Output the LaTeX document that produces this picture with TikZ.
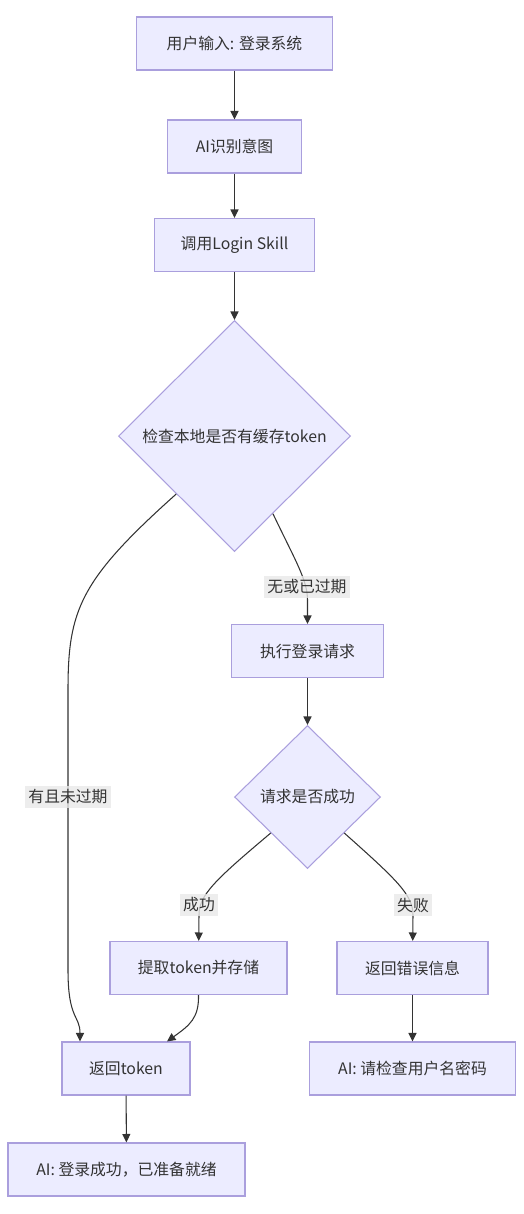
\documentclass[tikz,border=0pt]{standalone}
\usepackage{fontspec}
\newfontfamily\cjk{Noto Sans CJK SC}
\usetikzlibrary{shapes.geometric, arrows.meta, calc}
\definecolor{boxfill}{HTML}{ECECFF}
\definecolor{boxline}{HTML}{AA9FDD}
\definecolor{lineclr}{HTML}{333333}
\definecolor{lblbg}{HTML}{E8E8E8}

\begin{document}
\begin{tikzpicture}[x=0.02cm, y=-0.02cm,
    box/.style={rectangle, draw=boxline, fill=boxfill, line width=0.6pt, minimum height=1.06cm, align=center, font=\cjk\fontsize{9}{11}\selectfont, text=lineclr},
    decision/.style={diamond, aspect=1, inner sep=0pt, draw=boxline, fill=boxfill, line width=0.6pt, align=center, font=\cjk\fontsize{9}{11}\selectfont, text=lineclr},
    arrow/.style={-{Triangle[length=1.7mm,width=1.6mm]}, draw=lineclr, line width=0.6pt},
    edgelbl/.style={fill=lblbg, fill opacity=0.8, text opacity=1, inner sep=2pt, font=\cjk\fontsize{9}{11}\selectfont, text=lineclr}
  ]
  \useasboundingbox (0,0) rectangle (524,1214);

  % Ablauf oben
  \node[box, minimum width=3.92cm] (input) at (234.5,43.5) {用户输入: 登录系统};
  \node[box, minimum width=2.68cm] (intent) at (234.5,146.5) {AI识别意图};
  \node[box, minimum width=3.2cm] (skill) at (234.5,245) {调用Login Skill};

  % Entscheidungen
  \node[decision, minimum width=4.64cm, minimum height=4.62cm] (cache) at (234.5,436) {检查本地是否有缓存token};
  \node[box, minimum width=3.04cm] (request) at (307.5,651) {执行登录请求};
  \node[decision, minimum width=2.92cm, minimum height=2.86cm] (success) at (307.5,797) {请求是否成功};

  % Ergebnisse
  \node[box, minimum width=3.54cm] (store) at (198.5,968) {提取token并存储};
  \node[box, minimum width=3.02cm] (error) at (412.5,968) {返回错误信息};
  \node[box, minimum width=2.56cm] (token) at (126,1068.5) {返回token};
  \node[box, minimum width=4.12cm] (errmsg) at (412.5,1068.5) {AI: 请检查用户名密码};
  \node[box, minimum width=4.74cm] (ready) at (126.5,1169.5) {AI: 登录成功，已准备就绪};

  % Pfeile
  \draw[arrow] (input) -- (intent);
  \draw[arrow] (intent) -- (skill);
  \draw[arrow] (skill) -- (cache);
  \draw[arrow] (cache.south west) .. controls (80,580) and (68,610) .. (68,690) -- (68,970)
    .. controls (68,1020) and (80,1015) .. ($(token.north)+(-46,0)$);
  \draw[arrow] ($(cache.south)!0.33!(cache.east)$) .. controls (295,560) and (307.5,580) .. (307.5,600) -- (request);
  \draw[arrow] (request) -- (success);
  \draw[arrow] (success.south west) .. controls (215,880) and (199,895) .. (199,915) -- (store);
  \draw[arrow] (success.south east) .. controls (397,880) and (413,895) .. (413,915) -- (error);
  \draw[arrow] (store.south) .. controls (199,1018) and (190,1025) .. ($(token.north)+(41,0)$);
  \draw[arrow] (error) -- (errmsg);
  \draw[arrow] (token) -- (ready);

  % Beschriftungen
  \node[edgelbl] (lblexp) at (307,587) {无或已过期};
  \node[edgelbl] (lblvalid) at (68,797) {有且未过期};
  \node[edgelbl] (lblok) at (199,905) {成功};
  \node[edgelbl] (lblfail) at (413,905) {失败};
\end{tikzpicture}
\end{document}
